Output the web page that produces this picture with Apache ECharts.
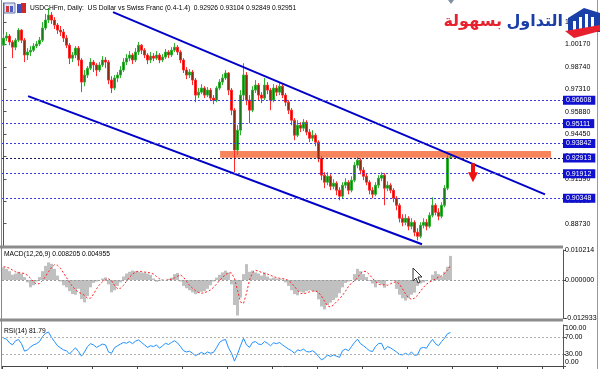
<!DOCTYPE html>
<html><head><meta charset="utf-8">
<script src="https://cdn.jsdelivr.net/npm/echarts@6/dist/echarts.min.js"></script>
<style>html,body{margin:0;padding:0;background:#fff}#c{width:600px;height:369px}</style>
</head><body><div id="c"></div>
<script>
// Prices in units of 0.0001 (e.g. 9661 = 0.96610)
const opens=[10012,10057,10070,10032,9999,10044,10108,10044,9949,9968,
9980,10006,10019,10044,10121,10172,10204,10172,10140,10108,
10096,10057,10012,9929,9949,9993,9917,9776,9821,9865,
9904,9885,9853,9885,9917,9904,9789,9738,9802,9821,
9853,9904,9929,9949,9917,9968,10012,9980,9949,9917,
9942,9929,9949,9917,9936,9968,9949,9980,9999,9968,
9917,9853,9821,9840,9789,9693,9712,9738,9693,9725,
9674,9661,9738,9776,9802,9834,9725,9597,9342,9469,
9693,9821,9661,9597,9725,9757,9693,9674,9757,9725,
9661,9738,9712,9750,9693,9648,9597,9533,9437,9501,
9482,9520,9457,9418,9437,9393,9290,9182,9137,9175,
9111,9131,9086,9048,9118,9137,9086,9150,9246,9278,
9214,9175,9137,9086,9060,9118,9163,9182,9099,9118,
9086,9035,8990,8907,8881,8907,8856,8881,8818,8792,
8862,8881,8856,8926,8990,8945,8920,8990,9099,9292.6];
const closes=[10057,10070,10032,9999,10044,10108,10044,9949,9968,9980,
10006,10019,10044,10121,10172,10204,10172,10140,10108,10096,
10057,10012,9929,9949,9993,9917,9776,9821,9865,9904,
9885,9853,9885,9917,9904,9789,9738,9802,9821,9853,
9904,9929,9949,9917,9968,10012,9980,9949,9917,9942,
9929,9949,9917,9936,9968,9949,9980,9999,9968,9917,
9853,9821,9840,9789,9693,9712,9738,9693,9725,9674,
9661,9738,9776,9802,9834,9725,9597,9342,9469,9693,
9821,9661,9597,9725,9757,9693,9674,9757,9725,9661,
9738,9712,9750,9693,9648,9597,9533,9437,9501,9482,
9520,9457,9418,9437,9393,9290,9182,9137,9175,9111,
9131,9086,9048,9118,9137,9086,9150,9246,9278,9214,
9175,9137,9086,9060,9118,9163,9182,9099,9118,9086,
9035,8990,8907,8881,8907,8856,8881,8818,8792,8862,
8881,8856,8926,8990,8945,8920,8990,9099,9290,9295.1];
const lows=[9999,10038,10012,9929,9980,10032,10025,9904,9917,9942,
9968,9993,10006,10032,10108,10153,10147,10115,10083,10070,
10032,9993,9891,9904,9929,9878,9712,9750,9802,9853,
9840,9814,9840,9872,9865,9763,9706,9725,9776,9802,
9840,9885,9910,9891,9904,9949,9955,9929,9891,9897,
9910,9917,9897,9904,9923,9929,9936,9968,9949,9897,
9834,9795,9802,9757,9648,9674,9699,9674,9680,9655,
9635,9648,9725,9757,9789,9693,9565,9201,9310,9437,
9661,9629,9514,9584,9706,9661,9642,9661,9699,9597,
9648,9687,9693,9674,9623,9572,9501,9405,9425,9457,
9463,9437,9393,9399,9367,9265,9150,9099,9118,9086,
9092,9054,9022,9035,9099,9060,9073,9137,9226,9188,
9150,9118,9060,9035,9048,9099,9143,8990,9080,9067,
9009,8958,8881,8856,8862,8830,8837,8792,8766,8779,
8843,8830,8843,8913,8926,8894,8907,8977,9086,9284.9];
const highs=[10083,10096,10083,10044,10057,10121,10115,10057,9993,10006,
10025,10038,10064,10159,10211,10249,10223,10191,10153,10134,
10115,10076,10025,9968,10006,10006,9929,9853,9878,9929,
9917,9897,9904,9942,9936,9917,9814,9821,9840,9878,
9929,9955,9974,9961,9993,10032,10019,9993,9961,9968,
9961,9974,9961,9955,9987,9980,9999,10025,10012,9980,
9929,9872,9859,9853,9802,9738,9763,9750,9744,9738,
9693,9750,9795,9827,9853,9840,9738,9610,9501,9725,
9897,9840,9693,9750,9789,9770,9712,9802,9776,9738,
9763,9757,9770,9763,9706,9661,9610,9546,9533,9520,
9540,9533,9476,9469,9450,9405,9303,9201,9201,9188,
9156,9143,9105,9137,9163,9150,9175,9265,9297,9290,
9233,9195,9150,9105,9137,9182,9201,9195,9143,9131,
9099,9048,9003,8933,8933,8920,8907,8894,8843,8881,
8907,8901,8945,9041,9003,8971,9009,9118,9310,9310.4];
// MACD in units of 0.0001
const macdHist=[43,38,30,18,22,28,22,10,-8,-25,
-18,-5,10,30,48,60,55,38,15,-5,
-18,-25,-38,-48,-50,-30,-65,-76,-55,-25,
-10,-5,0,5,9,-15,-42,-35,-20,-8,
12,22,28,32,30,28,26,25,22,18,
5,-6,-3,2,0,4,8,20,24,-5,
-20,-28,-35,-42,-48,-45,-40,-38,-30,-18,
-5,8,18,26,32,25,-15,-85,-121,-60,
20,54,28,32,26,22,15,26,12,5,
8,5,4,2,-8,-20,-35,-48,-52,-40,
-43,-38,-35,-37,-40,-66,-90,-100,-85,-77,
-68,-60,-45,-25,-10,-5,0,20,38,30,
20,10,-3,-12,-25,-10,-15,-26,-2,0,
-3,-30,-50,-62,-70,-62,-50,-43,-20,-12,
-8,-3,0,18,30,20,12,28,45,82.05];
const macdSignal=[45,44,40,34,28,25,24,22,16,6,
-6,-14,-12,-2,12,28,42,52,50,40,
24,8,-8,-22,-33,-42,-46,-52,-62,-62,
-48,-30,-16,-6,0,4,-2,-18,-30,-28,
-18,-4,10,20,27,30,29,27,26,24,
20,12,4,-1,-1,0,3,7,13,17,
10,-5,-18,-28,-36,-42,-45,-43,-39,-34,
-25,-14,-2,9,18,25,24,5,-35,-75,
-80,-45,0,25,33,30,26,22,20,16,
12,8,6,5,3,-2,-10,-22,-35,-45,
-47,-44,-40,-38,-37,-42,-55,-72,-88,-92,
-85,-74,-64,-52,-38,-22,-10,-3,8,22,
30,28,18,6,-5,-14,-17,-16,-18,-13,
-8,-6,-14,-30,-47,-60,-66,-62,-52,-38,
-25,-14,-7,-2,4,10,14,22,34,49.55];
const rsi=[68,66,57,52,62,65,55,37,40,47,
52,55,60,72,80,83,70,60,50,45,
40,38,30,38,45,36,25,35,48,55,
52,46,50,54,52,35,32,45,50,54,
58,56,60,55,61,64,58,52,46,50,
48,52,44,50,56,53,58,62,57,48,
38,35,37,32,26,30,34,30,35,32,
34,45,58,63,65,45,32,13,30,50,
68,52,46,58,60,54,53,60,56,50,
57,55,58,52,47,42,38,32,40,38,
42,36,35,38,33,24,16,20,28,24,
28,25,22,38,42,38,48,58,66,55,
50,44,38,36,48,55,56,40,48,45,
40,35,29,28,32,28,35,27,28,44,
46,44,56,65,55,50,60,68,79,81.79];
const priceTicks=[8873,9016,9159,9302,9445,9588,9731,9874,10017,10160];
const levels=[9660.8,9511.1,9384.2,9291.3,9191.2,9034.8];
const upperChannel=[[36.5,10223],[180.5,9060]];
const lowerChannel=[[8.2,9687],[139.5,8741]];
const zone=[[72.2,9337],[182.5,9293]];
const arrowAt=[156.5,9198];
const macdTicks=[-129.33,0,102.14];
const rsiTicks=[0,30,70,100];
const rsiLevels=[70,30];
const header='USDCHFm, Daily:  US Dollar vs Swiss Franc (0.4-1.4)  0.92926 0.93104 0.92849 0.92951';
const macdTitle='MACD(12,26,9) 0.008205 0.004955';
const rsiTitle='RSI(14) 81.79';
const logoRed='بسهولة', logoBlue='التداول';

const N=187;
const cats=Array.from({length:N},(_,i)=>String(i));
const candles=opens.map((o,i)=>[o,closes[i],lows[i],highs[i]]);
const FF='"Liberation Sans", Arial, sans-serif';
const chart=echarts.init(document.getElementById('c'),null,{renderer:'canvas'});
const hiddenCat=g=>({type:'category',gridIndex:g,data:cats,show:false,boundaryGap:true});
chart.setOption({
  animation:false,
  backgroundColor:'#ffffff',
  grid:[
    {left:2,top:3,width:561,height:243},
    {left:2,top:250,width:561,height:68},
    {left:2,top:325,width:561,height:41.5}
  ],
  xAxis:[
    hiddenCat(0),
    {type:'value',gridIndex:0,min:-0.5,max:N-0.5,show:false},
    hiddenCat(1),
    {type:'category',gridIndex:2,data:cats,boundaryGap:true,
     axisLine:{show:true,lineStyle:{color:'#444'}},
     axisTick:{show:true,interval:14,length:3,lineStyle:{color:'#444'}},
     axisLabel:{show:false}}
  ],
  yAxis:[
    {type:'value',gridIndex:0,position:'right',min:8730,max:10281,
     splitLine:{show:false},
     axisLine:{show:true,lineStyle:{color:'#555'}},
     axisTick:{show:true,length:3,customValues:priceTicks,lineStyle:{color:'#555'}},
     axisLabel:{customValues:priceTicks,formatter:v=>(v/10000).toFixed(5),fontSize:7,color:'#000',margin:2,fontFamily:FF}},
    {type:'value',gridIndex:1,position:'right',min:-129.33,max:102.14,
     splitLine:{show:false},
     axisLine:{show:true,lineStyle:{color:'#555'}},
     axisTick:{show:true,length:3,customValues:macdTicks,lineStyle:{color:'#555'}},
     axisLabel:{customValues:macdTicks,formatter:v=>(v/10000).toFixed(6),fontSize:7,color:'#000',margin:2,fontFamily:FF}},
    {type:'value',gridIndex:2,position:'right',min:0,max:100,
     splitLine:{show:false},
     axisLine:{show:true,lineStyle:{color:'#555'}},
     axisTick:{show:true,length:3,customValues:rsiTicks,lineStyle:{color:'#555'}},
     axisLabel:{customValues:rsiTicks,fontSize:7,color:'#000',margin:2,fontFamily:FF,
       formatter:v=>v===100?'{t|100.00}':(v===0?'{b|0.00}':v.toFixed(2)),
       rich:{t:{fontSize:7,fontFamily:FF,padding:[6,0,0,0]},b:{fontSize:7,fontFamily:FF,padding:[0,0,8,0]}}}}
  ],
  series:[
    {type:'line',xAxisIndex:1,yAxisIndex:0,data:[],z:1,
     markArea:{silent:true,itemStyle:{color:'#f8845c',opacity:1},
       data:[[{coord:zone[0]},{coord:zone[1]}]]}},
    {type:'line',xAxisIndex:1,yAxisIndex:0,data:[],z:2,
     markLine:{silent:true,symbol:['none','none'],
       data:levels.map((v,i)=>({yAxis:v,
         lineStyle:{color:i===3?'#1a1a5a':'#3a3ae0',type:[2,2],width:1},
         label:{show:true,position:'end',distance:0,formatter:(v/10000).toFixed(5),
           backgroundColor:'#1010d0',color:'#fff',fontSize:7,fontFamily:FF,padding:[1,4,1,3]}}))}},
    {type:'candlestick',xAxisIndex:0,yAxisIndex:0,data:candles,barWidth:2,z:3,
     itemStyle:{color:'#1f7a1f',color0:'#8a2a12',borderColor:'#2fb02f',borderColor0:'#ff2a2a',borderWidth:1}},
    {type:'line',xAxisIndex:1,yAxisIndex:0,data:upperChannel,symbol:'none',z:4,
     lineStyle:{color:'#0000c8',width:2}},
    {type:'line',xAxisIndex:1,yAxisIndex:0,data:lowerChannel,symbol:'none',z:4,
     lineStyle:{color:'#0000c8',width:2},
     markPoint:{silent:true,data:[{coord:arrowAt,symbol:'path://M3,0 L7,0 L7,9 L10,9 L5,19 L0,9 L3,9 Z',
       symbolSize:[10,19],itemStyle:{color:'#ee1111'},label:{show:false}}]}},
    {type:'bar',xAxisIndex:2,yAxisIndex:1,data:macdHist,barWidth:'100%',barGap:'-100%',
     itemStyle:{color:'#c0c0c0'},z:2,
     markLine:{silent:true,symbol:['none','none'],label:{show:false},
       data:[{yAxis:0}],lineStyle:{color:'#9a9a9a',type:[2,2],width:1}}},
    {type:'line',xAxisIndex:2,yAxisIndex:1,data:macdSignal,symbol:'none',z:3,
     lineStyle:{color:'#ff2020',type:[2,2],width:1}},
    {type:'line',xAxisIndex:3,yAxisIndex:2,data:rsi,symbol:'none',z:3,
     lineStyle:{color:'#1e90ff',width:1},
     markLine:{silent:true,symbol:['none','none'],label:{show:false},
       data:rsiLevels.map(v=>({yAxis:v})),lineStyle:{color:'#b0b0b0',type:[2,2],width:1}}}
  ],
  graphic:[
    {type:'rect',shape:{x:0,y:245.5,width:563,height:3},style:{fill:'#8c8c8c'},z:10},
    {type:'rect',shape:{x:0,y:318.5,width:563,height:3},style:{fill:'#8c8c8c'},z:10},
    {type:'line',shape:{x1:1.5,y1:0,x2:1.5,y2:369},style:{stroke:'#888',lineWidth:1},z:10},
    {type:'line',shape:{x1:597.5,y1:0,x2:597.5,y2:369},style:{stroke:'#999',lineWidth:1},z:10},
    {type:'polygon',shape:{points:[[448,0],[454,0],[451,4]]},style:{fill:'#8090a0'},z:10},
    {type:'rect',shape:{x:4,y:3,width:11,height:10},style:{fill:'#dfe3f0',stroke:'#6a74a8',lineWidth:1},z:10},
    {type:'rect',shape:{x:6,y:6,width:3,height:6},style:{fill:'#d03a3a'},z:11},
    {type:'rect',shape:{x:10,y:6,width:3,height:6},style:{fill:'#4a5ec8'},z:11},
    {type:'rect',shape:{x:17,y:4,width:4,height:9},style:{fill:'#3a52c0'},z:10},
    {type:'rect',shape:{x:21,y:3,width:5,height:10},style:{fill:'#d02828'},z:10},
    {type:'text',x:30,y:8,style:{text:header,font:'6.7px '+FF,fill:'#000',textVerticalAlign:'middle'},z:12},
    {type:'text',x:4,y:254,style:{text:macdTitle,font:'6.7px '+FF,fill:'#000',textVerticalAlign:'middle'},z:12},
    {type:'text',x:4,y:331,style:{text:rsiTitle,font:'6.7px '+FF,fill:'#000',textVerticalAlign:'middle'},z:12},
    {type:'text',x:502,y:22,style:{text:logoRed,font:'bold 16px "DejaVu Sans"',fill:'#e8202e',textAlign:'right',textVerticalAlign:'middle'},z:12},
    {type:'text',x:563,y:22,style:{text:logoBlue,font:'bold 16px "DejaVu Sans"',fill:'#1b3fa8',textAlign:'right',textVerticalAlign:'middle'},z:12},
    {type:'polygon',shape:{points:[[568,18],[584,8],[600,13],[600,32],[568,32]]},style:{fill:'#1b3fa8'},z:13},
    {type:'rect',shape:{x:573,y:21,width:3,height:10},style:{fill:'#fff'},z:14},
    {type:'rect',shape:{x:579,y:17,width:3,height:14},style:{fill:'#fff'},z:14},
    {type:'rect',shape:{x:585,y:14,width:3,height:17},style:{fill:'#fff'},z:14},
    {type:'rect',shape:{x:591,y:17,width:3,height:14},style:{fill:'#fff'},z:14},
    {type:'polygon',shape:{points:[[565,31],[600,25],[600,31],[574,38]]},style:{fill:'#e8202e'},z:15},
    {type:'polygon',shape:{points:[[413,268],[413,281],[416,278],[418,283],[420,282],[418,277],[422,277]]},style:{fill:'#fff',stroke:'#333',lineWidth:1},z:16}
  ]
});
</script></body></html>
